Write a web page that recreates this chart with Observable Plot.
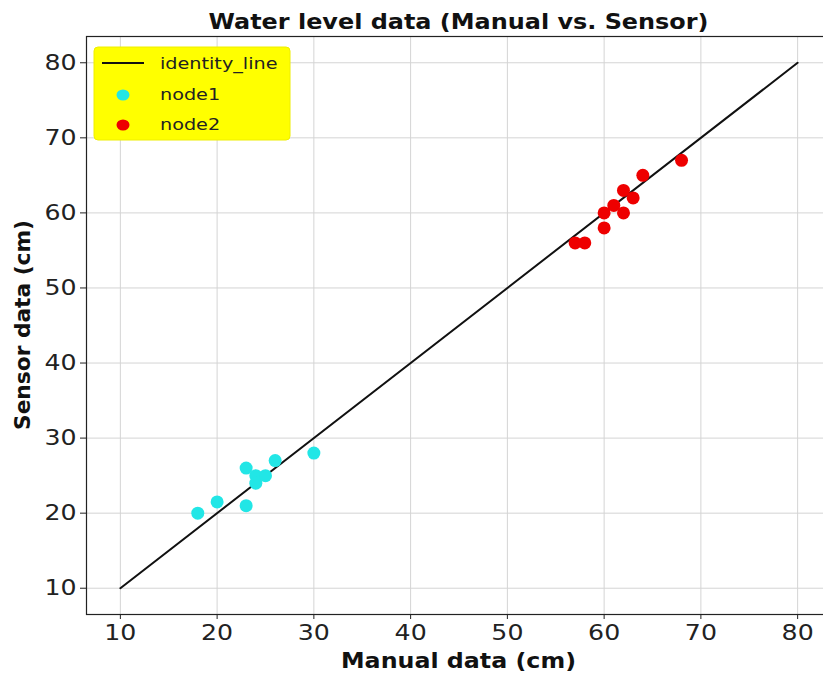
<!DOCTYPE html>
<html>
<head>
<meta charset="utf-8">
<script src="https://cdn.jsdelivr.net/npm/d3@7"></script>
<script src="https://cdn.jsdelivr.net/npm/@observablehq/plot@0.6"></script>
<style>
  html, body { margin: 0; padding: 0; background: #fff; overflow: hidden; }
  #chart { position: relative; width: 823px; height: 679px; overflow: hidden; }
  #chart svg { max-width: none !important; }
</style>
</head>
<body>
<div id="chart"></div>
<script>
// Data
const node1Manual = [18, 20, 23, 23, 24, 24, 25, 26, 30];
const node1Sensor = [20, 21.5, 26, 21, 25, 24, 25, 27, 28];
const node2Manual = [57, 58, 60, 60, 61, 62, 62, 63, 64, 68];
const node2Sensor = [56, 56, 58, 60, 61, 60, 63, 62, 65, 67];
const identityLine = [10, 80];
const ticks = [10, 20, 30, 40, 50, 60, 70, 80];
const titleText = "Water level data (Manual vs. Sensor)";
const xLabel = "Manual data (cm)";
const yLabel = "Sensor data (cm)";
const legendLabels = ["identity_line", "node1", "node2"];

const node1 = node1Manual.map((m, i) => ({manual: m, sensor: node1Sensor[i]}));
const node2 = node2Manual.map((m, i) => ({manual: m, sensor: node2Sensor[i]}));
const identity = identityLine.map(v => ({manual: v, sensor: v}));

// The reference axes run past the right edge of the picture (cropped).
const W = 845, H = 679;
const mL = 86, mT = 36, mB = 65, mR = 0;
const CYAN = "#22e6e6", RED = "#ee0000";
const xMax = 6.5 + (W - mL) * 77 / 745;

const plot = Plot.plot({
  width: W,
  height: H,
  marginLeft: mL,
  marginTop: mT,
  marginBottom: mB,
  marginRight: mR,
  style: {fontFamily: "DejaVu Sans", fontSize: "21px", color: "#222", background: "#fff", maxWidth: "none"},
  x: {domain: [6.5, xMax], ticks: ticks, label: null},
  y: {domain: [6.5, 83.5], ticks: ticks, label: null},
  marks: [
    Plot.gridX(ticks, {stroke: "#d4d4d4", strokeOpacity: 1, strokeWidth: 1}),
    Plot.gridY(ticks, {stroke: "#d4d4d4", strokeOpacity: 1, strokeWidth: 1}),
    Plot.axisX(ticks, {tickSize: 5, tickPadding: 6, fontSize: 21, label: null}),
    Plot.axisY(ticks, {tickSize: 6, tickPadding: 4, fontSize: 21, label: null}),
    Plot.line(identity, {x: "manual", y: "sensor", stroke: "#111", strokeWidth: 2}),
    Plot.dot(node1, {x: "manual", y: "sensor", r: 6.5, fill: CYAN, stroke: "none"}),
    Plot.dot(node2, {x: "manual", y: "sensor", r: 6.5, fill: RED, stroke: "none"}),
    Plot.frame({stroke: "#222", strokeWidth: 1.2})
  ]
});

plot.style.maxWidth = "none";
document.getElementById("chart").appendChild(plot);

const svg = d3.select(plot);
const font = "DejaVu Sans";
const STRETCH = 1.2;

// Horizontal stretch of the tick labels (reference is horizontally stretched)
svg.selectAll("g[aria-label$='tick label'] text").each(function () {
  const L = this.getComputedTextLength();
  this.setAttribute("textLength", L * STRETCH);
  this.setAttribute("lengthAdjust", "spacingAndGlyphs");
});

const cx = 458.5;

svg.append("text")
  .attr("x", cx).attr("y", 29)
  .attr("text-anchor", "middle")
  .attr("font-family", font).attr("font-weight", "bold").attr("font-size", 20.5)
  .attr("fill", "#111")
  .attr("textLength", 500).attr("lengthAdjust", "spacingAndGlyphs")
  .text(titleText);

svg.append("text")
  .attr("x", cx).attr("y", 668)
  .attr("text-anchor", "middle")
  .attr("font-family", font).attr("font-weight", "bold").attr("font-size", 21)
  .attr("fill", "#111")
  .attr("textLength", 235).attr("lengthAdjust", "spacingAndGlyphs")
  .text(xLabel);

svg.append("text")
  .attr("transform", `translate(30, ${mT + (H - mB - mT) / 2}) rotate(-90)`)
  .attr("text-anchor", "middle")
  .attr("font-family", font).attr("font-weight", "bold").attr("font-size", 21)
  .attr("fill", "#111")
  .attr("textLength", 210).attr("lengthAdjust", "spacingAndGlyphs")
  .text(yLabel);

// Legend
const lg = svg.append("g");
lg.append("rect")
  .attr("x", 94).attr("y", 47).attr("width", 196).attr("height", 93)
  .attr("rx", 4).attr("fill", "#ffff00").attr("stroke", "#eeee00");
lg.append("line")
  .attr("x1", 102).attr("x2", 144).attr("y1", 63).attr("y2", 63)
  .attr("stroke", "#111").attr("stroke-width", 2);
lg.append("ellipse").attr("cx", 123).attr("cy", 95).attr("rx", 6.5).attr("ry", 5.5).attr("fill", CYAN);
lg.append("ellipse").attr("cx", 123).attr("cy", 125).attr("rx", 6.5).attr("ry", 5.5).attr("fill", RED);
const ly = [63, 94, 124];
legendLabels.forEach((t, i) => {
  const el = lg.append("text")
    .attr("x", 160).attr("y", ly[i]).attr("dy", "0.35em")
    .attr("text-anchor", "start")
    .attr("font-family", font).attr("font-size", 16).attr("fill", "#222")
    .text(t);
  const L = el.node().getComputedTextLength();
  el.attr("textLength", L * STRETCH).attr("lengthAdjust", "spacingAndGlyphs");
});
</script>
</body>
</html>
